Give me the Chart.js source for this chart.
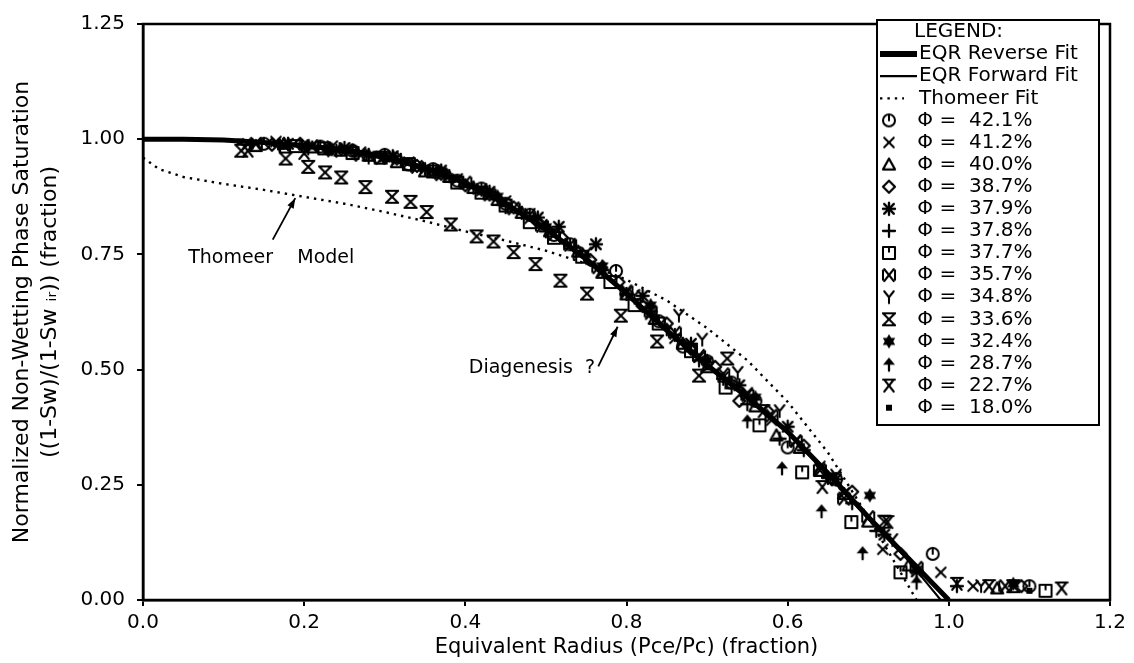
<!DOCTYPE html>
<html><head><meta charset="utf-8">
<script src="https://cdn.jsdelivr.net/npm/chart.js@4/dist/chart.umd.min.js"></script>
<style>html,body{margin:0;padding:0;background:#fff;}#wrap{width:1134px;height:663px;}</style>
</head><body><div id="wrap"><canvas id="c" width="1134" height="663"></canvas></div>
<script>
// ---------- data ----------
const xTickLabels = ['0.0','0.2','0.4','0.8','0.6','1.0','1.2'];
const yTickLabels = ['0.00','0.25','0.50','0.75','1.00','1.25'];

const fitX        = [0,0.05,0.10,0.15,0.20,0.25,0.30,0.35,0.40,0.45,0.50,0.55,0.60,0.65,0.70,0.75,0.80,0.85,0.90,0.95,1.00];
const reverseFitY = [1.0,1.0,0.998,0.993,0.986,0.977,0.962,0.938,0.905,0.860,0.805,0.740,0.665,0.585,0.510,0.440,0.365,0.275,0.180,0.090,0.0];
const forwardFitX = [0,0.05,0.10,0.15,0.20,0.25,0.30,0.35,0.40,0.45,0.50,0.55,0.60,0.65,0.70,0.75,0.80,0.85,0.90,0.95,0.99];
const forwardFitY = [1.0,1.0,0.997,0.991,0.983,0.972,0.957,0.934,0.902,0.858,0.803,0.738,0.664,0.586,0.512,0.440,0.362,0.272,0.176,0.085,0.0];
const thomeerX    = [0,0.02,0.05,0.10,0.15,0.20,0.25,0.30,0.35,0.40,0.45,0.50,0.55,0.60,0.65,0.70,0.75,0.80,0.85,0.90,0.93,0.95,0.96];
const thomeerY    = [0.96,0.935,0.918,0.903,0.890,0.875,0.860,0.842,0.822,0.800,0.780,0.758,0.730,0.695,0.650,0.590,0.520,0.430,0.320,0.180,0.090,0.030,0.0];

const porosityLabels = ['42.1%','41.2%','40.0%','38.7%','37.9%','37.8%','37.7%','35.7%','34.8%','33.6%','32.4%','28.7%','22.7%','18.0%'];

const s421 = [[0.15,0.99],[0.22,0.984],[0.26,0.975],[0.30,0.966],[0.33,0.945],[0.36,0.935],[0.39,0.91],[0.42,0.893],[0.45,0.86],[0.48,0.836],[0.51,0.792],[0.53,0.772],[0.587,0.714],[0.64,0.605],[0.67,0.55],[0.70,0.518],[0.73,0.472],[0.76,0.432],[0.80,0.331],[0.86,0.262],[0.98,0.10],[1.10,0.03]];
const s412 = [[0.13,0.99],[0.165,0.995],[0.20,0.988],[0.235,0.985],[0.27,0.972],[0.30,0.962],[0.33,0.95],[0.36,0.932],[0.39,0.914],[0.42,0.888],[0.45,0.866],[0.48,0.828],[0.51,0.792],[0.54,0.752],[0.57,0.712],[0.60,0.668],[0.63,0.62],[0.66,0.568],[0.69,0.527],[0.72,0.484],[0.75,0.45],[0.78,0.39],[0.81,0.345],[0.84,0.29],[0.87,0.232],[0.918,0.11],[0.99,0.06],[1.03,0.03]];
const s400 = [[0.14,0.985],[0.175,0.99],[0.21,0.982],[0.245,0.975],[0.28,0.964],[0.315,0.95],[0.35,0.93],[0.38,0.918],[0.41,0.894],[0.44,0.868],[0.47,0.84],[0.505,0.80],[0.54,0.756],[0.57,0.71],[0.60,0.663],[0.635,0.61],[0.67,0.556],[0.70,0.505],[0.73,0.47],[0.76,0.42],[0.786,0.357],[0.815,0.33],[0.84,0.28],[0.87,0.23],[0.90,0.17],[0.95,0.075],[1.06,0.025]];
const s387 = [[0.16,0.988],[0.195,0.99],[0.23,0.978],[0.26,0.976],[0.29,0.96],[0.315,0.958],[0.34,0.942],[0.37,0.925],[0.40,0.90],[0.43,0.88],[0.46,0.852],[0.49,0.82],[0.52,0.786],[0.555,0.738],[0.59,0.69],[0.62,0.638],[0.65,0.60],[0.68,0.545],[0.71,0.506],[0.74,0.432],[0.775,0.41],[0.82,0.335],[0.855,0.262],[0.88,0.235],[0.94,0.10],[1.09,0.03]];
const s379 = [[0.18,0.99],[0.25,0.981],[0.31,0.963],[0.37,0.932],[0.43,0.886],[0.49,0.83],[0.516,0.81],[0.562,0.772],[0.62,0.66],[0.68,0.556],[0.74,0.466],[0.80,0.376],[0.86,0.262],[0.92,0.142],[0.96,0.062]];
const s378 = [[0.17,0.985],[0.205,0.98],[0.24,0.975],[0.28,0.966],[0.32,0.955],[0.35,0.935],[0.38,0.92],[0.41,0.895],[0.44,0.87],[0.47,0.84],[0.50,0.80],[0.535,0.765],[0.57,0.716],[0.60,0.664],[0.63,0.626],[0.66,0.575],[0.69,0.52],[0.72,0.48],[0.75,0.425],[0.79,0.35],[0.82,0.325],[0.85,0.265],[0.88,0.21],[0.91,0.15],[1.01,0.03]];
const s377 = [[0.19,0.985],[0.225,0.98],[0.26,0.97],[0.295,0.96],[0.33,0.946],[0.36,0.93],[0.39,0.906],[0.42,0.884],[0.45,0.856],[0.48,0.82],[0.51,0.786],[0.545,0.745],[0.58,0.69],[0.61,0.64],[0.64,0.60],[0.68,0.54],[0.723,0.461],[0.765,0.379],[0.818,0.277],[0.879,0.169],[0.94,0.06],[1.12,0.02]];
const s357 = [[0.14,0.99],[0.175,0.988],[0.21,0.985],[0.24,0.978],[0.27,0.966],[0.305,0.96],[0.34,0.94],[0.37,0.924],[0.40,0.906],[0.43,0.88],[0.46,0.85],[0.495,0.812],[0.53,0.771],[0.565,0.722],[0.60,0.67],[0.63,0.626],[0.66,0.58],[0.69,0.53],[0.72,0.49],[0.75,0.445],[0.78,0.40],[0.81,0.345],[0.84,0.282],[0.87,0.22],[0.90,0.18],[0.96,0.07],[1.07,0.03]];
const s348 = [[0.20,0.98],[0.28,0.96],[0.36,0.93],[0.42,0.89],[0.48,0.836],[0.55,0.752],[0.61,0.66],[0.665,0.617],[0.694,0.565],[0.738,0.493],[0.79,0.41],[0.86,0.27],[0.93,0.13],[1.04,0.03]];
const s336 = [[0.122,0.975],[0.177,0.958],[0.205,0.94],[0.226,0.928],[0.246,0.917],[0.276,0.896],[0.309,0.875],[0.332,0.864],[0.352,0.842],[0.382,0.815],[0.414,0.789],[0.435,0.778],[0.46,0.755],[0.487,0.729],[0.518,0.693],[0.551,0.665],[0.593,0.617],[0.638,0.561],[0.69,0.487],[0.725,0.524],[0.92,0.17],[1.08,0.03]];
const s324 = [[0.23,0.975],[0.30,0.96],[0.37,0.93],[0.44,0.876],[0.50,0.81],[0.57,0.725],[0.63,0.64],[0.70,0.52],[0.76,0.44],[0.902,0.227],[1.08,0.035]];
const s287 = [[0.45,0.855],[0.55,0.745],[0.65,0.59],[0.75,0.39],[0.793,0.288],[0.842,0.195],[0.893,0.104],[0.96,0.04]];
const s227 = [[0.13,0.975],[0.20,0.97],[0.77,0.41],[0.843,0.245],[0.924,0.169],[1.01,0.035],[1.05,0.03],[1.14,0.025]];
const s180 = [[0.12,0.995],[0.25,0.975],[0.40,0.90],[0.55,0.74],[0.70,0.505],[0.85,0.27],[1.10,0.02]];

const seriesData = [s421,s412,s400,s387,s379,s378,s377,s357,s348,s336,s324,s287,s227,s180];

// ---------- marker glyphs (styling) ----------
function mk(draw){
  const c=document.createElement('canvas'); c.width=18; c.height=18;
  const g=c.getContext('2d'); g.translate(9,9); g.scale(1.2,1.2);
  g.strokeStyle='#000'; g.fillStyle='#000'; g.lineWidth=1.7; g.lineCap='round'; g.lineJoin='round';
  draw(g); return c;
}
function seg(g,a,b,c,d){g.beginPath();g.moveTo(a,b);g.lineTo(c,d);g.stroke();}
const markers = [
  mk(g=>{g.beginPath();g.arc(0,0,5,0,Math.PI*2);g.stroke();seg(g,0,-5,0,0);}),
  mk(g=>{seg(g,-4,-4,4,4);seg(g,-4,4,4,-4);}),
  mk(g=>{g.lineWidth=1.9;g.beginPath();g.moveTo(0,-5);g.lineTo(5,4);g.lineTo(-5,4);g.closePath();g.stroke();}),
  mk(g=>{g.lineWidth=1.9;g.beginPath();g.moveTo(0,-5);g.lineTo(5,0);g.lineTo(0,5);g.lineTo(-5,0);g.closePath();g.stroke();}),
  mk(g=>{g.lineWidth=2;seg(g,-5,0,5,0);seg(g,0,-5,0,5);seg(g,-4,-4,4,4);seg(g,-4,4,4,-4);g.beginPath();g.arc(0,0,2.2,0,Math.PI*2);g.fill();}),
  mk(g=>{g.lineWidth=1.9;seg(g,-5,0,5,0);seg(g,0,-5,0,5);}),
  mk(g=>{g.strokeRect(-5,-5,10,10);seg(g,0,-5,0,-1);}),
  mk(g=>{seg(g,-4,-5,4,5);seg(g,4,-5,-4,5);seg(g,-5,-4,-5,4);seg(g,5,-4,5,4);}),
  mk(g=>{seg(g,-4,-5,0,0);seg(g,4,-5,0,0);seg(g,0,0,0,5);}),
  mk(g=>{seg(g,-5,-5,5,-5);seg(g,-5,5,5,5);seg(g,-5,-5,5,5);seg(g,5,-5,-5,5);}),
  mk(g=>{g.beginPath();g.moveTo(0,-6);g.lineTo(5.2,3);g.lineTo(-5.2,3);g.closePath();g.fill();g.beginPath();g.moveTo(0,6);g.lineTo(5.2,-3);g.lineTo(-5.2,-3);g.closePath();g.fill();}),
  mk(g=>{g.beginPath();g.moveTo(0,-5);g.lineTo(5,1);g.lineTo(-5,1);g.closePath();g.fill();g.lineWidth=1.9;seg(g,0,0,0,6);}),
  mk(g=>{seg(g,-5,-5,5,-5);seg(g,-4,-5,4,5);seg(g,4,-5,-4,5);}),
  mk(g=>{g.fillRect(-2.5,-2.5,5,5);})
];

const annotations = [
  {text:'Thomeer    Model', at:[0.056,0.743], align:'left', arrowFrom:[0.161,0.782], arrowTo:[0.189,0.872]},
  {text:'Diagenesis  ?', at:[0.561,0.503], align:'right', arrowFrom:[0.565,0.507], arrowTo:[0.589,0.593]}
];

// ---------- datasets ----------
const toPts = arr => arr.map(p=>({x:p[0],y:p[1]}));
const datasets = [
  {label:'EQR Reverse Fit', data:fitX.map((x,i)=>({x,y:reverseFitY[i]})), showLine:true, borderColor:'#000', borderWidth:5, pointRadius:0, clip:false},
  {label:'EQR Forward Fit', data:forwardFitX.map((x,i)=>({x,y:forwardFitY[i]})), showLine:true, borderColor:'#000', borderWidth:2, pointRadius:0, clip:false},
  {label:'Thomeer Fit', data:thomeerX.map((x,i)=>({x,y:thomeerY[i]})), showLine:true, borderColor:'#000', borderWidth:2.4, borderDash:[2.4,5], pointRadius:0, clip:false}
];
seriesData.forEach((s,i)=>datasets.push({
  label:'Φ = '+porosityLabels[i], data:toPts(s), showLine:false,
  pointStyle:markers[i], pointRadius:6, borderColor:'#000', backgroundColor:'#000', clip:false
}));

// ---------- plugins ----------
const framePlugin = {
  id:'frame',
  beforeDraw(chart){const c=chart.ctx;c.save();c.fillStyle='#fff';c.fillRect(0,0,chart.width,chart.height);c.restore();},
  afterDraw(chart){
    const {ctx, chartArea:a} = chart;
    ctx.save(); ctx.strokeStyle='#000'; ctx.lineWidth=2.5;
    ctx.strokeRect(a.left,a.top,a.right-a.left,a.bottom-a.top); ctx.restore();
  }
};
const annotationPlugin = {
  id:'notes',
  afterDraw(chart){
    const ctx=chart.ctx, xs=chart.scales.x, ys=chart.scales.y;
    ctx.save(); ctx.fillStyle='#000'; ctx.strokeStyle='#000';
    ctx.font='19px "DejaVu Sans"'; ctx.textBaseline='middle';
    annotations.forEach(a=>{
      ctx.textAlign=a.align;
      ctx.fillText(a.text, xs.getPixelForValue(a.at[0]), ys.getPixelForValue(a.at[1]));
      const x1=xs.getPixelForValue(a.arrowFrom[0]), y1=ys.getPixelForValue(a.arrowFrom[1]);
      const x2=xs.getPixelForValue(a.arrowTo[0]), y2=ys.getPixelForValue(a.arrowTo[1]);
      ctx.lineWidth=1.8; ctx.beginPath(); ctx.moveTo(x1,y1); ctx.lineTo(x2,y2); ctx.stroke();
      const ang=Math.atan2(y2-y1,x2-x1), L=10, W=3.5;
      ctx.beginPath(); ctx.moveTo(x2,y2);
      ctx.lineTo(x2-L*Math.cos(ang)+W*Math.sin(ang), y2-L*Math.sin(ang)-W*Math.cos(ang));
      ctx.lineTo(x2-L*Math.cos(ang)-W*Math.sin(ang), y2-L*Math.sin(ang)+W*Math.cos(ang));
      ctx.closePath(); ctx.fill();
    });
    ctx.restore();
  }
};
const legendPlugin = {
  id:'boxLegend',
  afterDraw(chart){
    const ctx=chart.ctx;
    const L=877, T=20, R=1099, B=425, step=22.1;
    ctx.save();
    ctx.fillStyle='#fff'; ctx.fillRect(L,T,R-L,B-T);
    ctx.strokeStyle='#000'; ctx.lineWidth=2; ctx.strokeRect(L,T,R-L,B-T);
    ctx.fillStyle='#000'; ctx.font='20px "DejaVu Sans"'; ctx.textBaseline='middle'; ctx.textAlign='left';
    let y=T+12;
    ctx.fillText('LEGEND:', 914, y);
    const lines=datasets.slice(0,3);
    lines.forEach((d,i)=>{
      y+=step;
      ctx.save(); ctx.lineWidth=i===0?6:2.2; ctx.lineCap='butt';
      if(i===2) ctx.setLineDash([2.4,5]);
      ctx.beginPath(); ctx.moveTo(880,y); ctx.lineTo(i===2?904:917,y); ctx.stroke(); ctx.restore();
      ctx.fillText(d.label, 919, y);
    });
    porosityLabels.forEach((lab,i)=>{
      y+=step;
      const m=markers[i]; ctx.drawImage(m, 889-m.width/2, y-m.height/2);
      ctx.textAlign='center'; ctx.fillText('Φ', 925, y); ctx.fillText('=', 948, y);
      ctx.textAlign='left'; ctx.fillText(lab, 969, y);
    });
    ctx.restore();
  }
};

Chart.defaults.font.family='"DejaVu Sans"';
Chart.defaults.color='#000';

new Chart(document.getElementById('c'), {
  type:'scatter',
  data:{datasets},
  options:{
    responsive:false, animation:false, devicePixelRatio:1,
    layout:{padding:{left:0,right:24,top:16,bottom:0}},
    plugins:{legend:{display:false}, tooltip:{enabled:false}},
    elements:{line:{tension:0}},
    scales:{
      x:{
        type:'linear', min:0, max:1.2,
        afterFit(s){s.height=63;},
        ticks:{stepSize:0.2, autoSkip:false, maxRotation:0, padding:5, font:{size:20}, color:'#000',
          callback:(v,i)=>xTickLabels[i]},
        grid:{drawOnChartArea:false, drawTicks:true, tickLength:6, color:'#000', lineWidth:2},
        border:{display:true, color:'#000', width:2.5},
        title:{display:true, text:'Equivalent Radius (Pce/Pc) (fraction)', font:{size:21}, color:'#000', padding:{top:0,bottom:3}}
      },
      y:{
        type:'linear', min:0, max:1.25,
        afterFit(s){s.width=143;},
        ticks:{stepSize:0.25, autoSkip:false, padding:12, font:{size:20}, color:'#000',
          callback:(v,i)=>yTickLabels[i]},
        grid:{drawOnChartArea:false, drawTicks:true, tickLength:6, color:'#000', lineWidth:2},
        border:{display:true, color:'#000', width:2.5},
        title:{display:true, text:['Normalized Non-Wetting Phase Saturation','((1-Sw)/(1-Sw ᵢᵣ)) (fraction)'],
          font:{size:22, lineHeight:1.27}, color:'#000', padding:{top:8,bottom:0}}
      }
    }
  },
  plugins:[framePlugin, annotationPlugin, legendPlugin]
});
</script></body></html>
